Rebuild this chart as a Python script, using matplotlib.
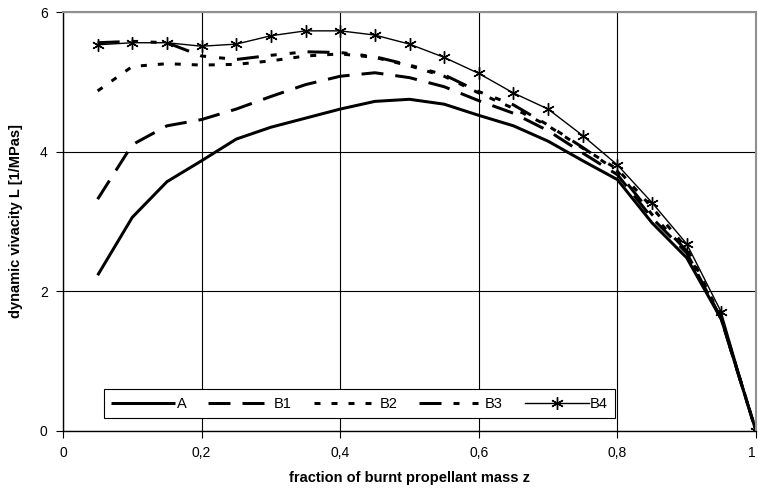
import matplotlib
matplotlib.use("Agg")
import matplotlib.pyplot as plt
from matplotlib.ticker import FixedLocator, FuncFormatter

plt.rcParams['font.family'] = ['Liberation Sans', 'DejaVu Sans']
plt.rcParams['lines.scale_dashes'] = False

z = [0.05, 0.10, 0.15, 0.20, 0.25, 0.30, 0.35, 0.40, 0.45, 0.50,
     0.55, 0.60, 0.65, 0.70, 0.75, 0.80, 0.85, 0.90, 0.95, 1.00]

A = [2.23, 3.06, 3.57, 3.87, 4.18, 4.35, 4.48, 4.61, 4.72, 4.75,
     4.68, 4.52, 4.37, 4.15, 3.87, 3.60, 2.98, 2.48, 1.60, 0.0]
B1 = [3.32, 4.10, 4.37, 4.46, 4.61, 4.79, 4.96, 5.08, 5.13, 5.06,
      4.93, 4.73, 4.55, 4.30, 3.98, 3.67, 3.05, 2.55, 1.60, 0.0]
B2 = [4.87, 5.22, 5.26, 5.24, 5.25, 5.30, 5.37, 5.40, 5.35, 5.23,
      5.08, 4.84, 4.62, 4.37, 4.05, 3.75, 3.20, 2.62, 1.62, 0.0]
B3 = [5.56, 5.58, 5.56, 5.37, 5.32, 5.38, 5.43, 5.42, 5.36, 5.24,
      5.10, 4.86, 4.67, 4.38, 4.06, 3.72, 3.10, 2.58, 1.60, 0.0]
B4 = [5.53, 5.56, 5.56, 5.51, 5.54, 5.66, 5.73, 5.73, 5.67, 5.54,
      5.35, 5.12, 4.84, 4.61, 4.23, 3.81, 3.27, 2.68, 1.70, 0.0]

x_ticks = [0, 0.2, 0.4, 0.6, 0.8, 1.0]
y_ticks = [0, 2, 4, 6]

px = 0.72  # points per pixel at dpi 100

fig = plt.figure(figsize=(7.58, 5.01), dpi=100)
ax = fig.add_axes([63/758, 1-431/501, (756-63)/758, (431-12)/501])

lw_thick = 3 * px
ax.plot(z, A, color='black', lw=lw_thick, label='A', solid_capstyle='butt')
ax.plot(z, B1, color='black', lw=lw_thick, label='B1',
        dashes=(22*px, 12*px))
ax.plot(z, B2, color='black', lw=lw_thick, label='B2',
        dashes=(6*px, 11*px))
ax.plot(z, B3, color='black', lw=lw_thick, label='B3',
        dashes=(22*px, 12*px, 6*px, 13*px, 6*px, 12*px))
ax.plot(z, B4, color='black', lw=1.0, label='B4',
        marker=(6, 2, 0), markersize=9, markeredgewidth=1.0)

ax.set_xlim(0, 1)
ax.set_ylim(0, 6)
ax.xaxis.set_major_locator(FixedLocator(x_ticks))
ax.yaxis.set_major_locator(FixedLocator(y_ticks))

def comma_fmt(v, pos):
    if abs(v - round(v)) < 1e-9:
        return f"{int(round(v))}"
    return f"{v:g}".replace('.', ',')

ax.xaxis.set_major_formatter(FuncFormatter(comma_fmt))
ax.yaxis.set_major_formatter(FuncFormatter(comma_fmt))

ax.grid(True, color='black', lw=0.8)
ax.set_axisbelow(True)
for s in ['top', 'right']:
    ax.spines[s].set_color('#909090')
    ax.spines[s].set_linewidth(1.5)
for s in ['left', 'bottom']:
    ax.spines[s].set_color('black')
    ax.spines[s].set_linewidth(1.0)

ax.tick_params(axis='both', direction='out', length=5, width=0.8,
               labelsize=10, colors='black', pad=6)

ax.set_xlabel('fraction of burnt propellant mass z', fontsize=10.5,
              fontweight='bold', labelpad=8)
ax.set_ylabel('dynamic vivacity L [1/MPas]', fontsize=10.5,
              fontweight='bold', labelpad=12)

leg = ax.legend(loc='lower left', bbox_to_anchor=(0.059, 0.031), ncol=5,
                fontsize=10.5, frameon=True, fancybox=False, borderaxespad=0,
                handlelength=4.4, handletextpad=0.1, columnspacing=1.5,
                borderpad=0.5)
leg.get_frame().set_edgecolor('black')
leg.get_frame().set_linewidth(0.8)
leg.get_frame().set_alpha(1)

fig.canvas.draw()
last = ax.get_xticklabels()[-1]
last.set_horizontalalignment('right')

fig.savefig('out.png', dpi=100)
